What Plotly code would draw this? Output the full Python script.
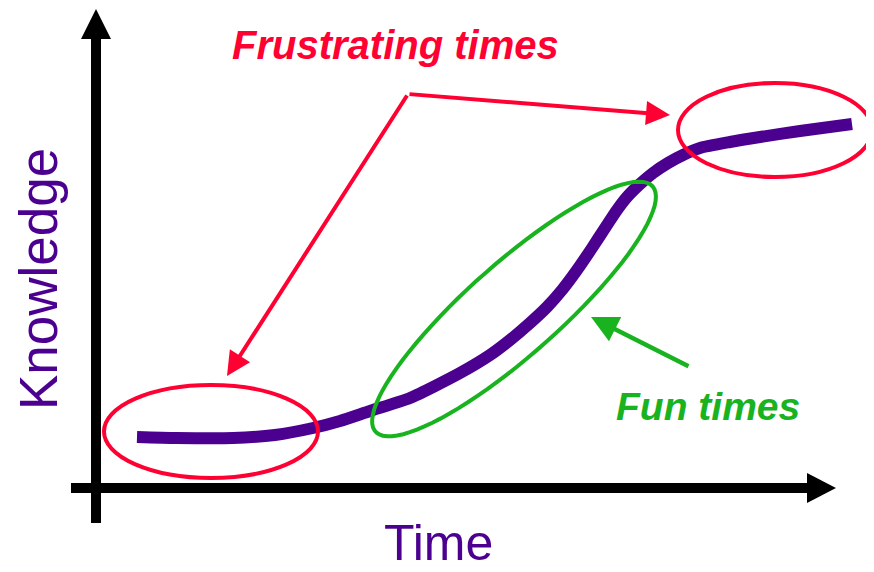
import numpy as np
import plotly.graph_objects as go

# learning curve (time / knowledge in drawing units)
time = [41, 80, 137, 179, 217, 244, 274, 314, 364, 394, 414, 434, 451, 466,
        481, 496, 511, 521, 531, 544, 557, 572, 587, 604, 634, 664, 704, 756]
knowledge = [51, 50, 50, 53, 60, 67, 77, 90, 115, 133, 148, 165, 181, 198,
             218, 240, 263, 278, 291, 304, 315, 325, 333, 340, 346, 351, 357, 364]

x_label = "Time"
y_label = "Knowledge"
slow_label = "Frustrating times"
fast_label = "Fun times"

PURPLE = "#4B0090"
RED = "#FF0033"
GREEN = "#19B31F"
FONT = "Liberation Sans, Arial, sans-serif"

fig = go.Figure()
fig.add_trace(go.Scatter(
    x=time, y=knowledge, mode="lines",
    line=dict(color=PURPLE, width=12, shape="spline", smoothing=0.6),
    hoverinfo="skip", showlegend=False,
))

shapes = []
# axes with arrow heads
shapes.append(dict(type="line", x0=0, y0=-35, x1=0, y1=452, line=dict(color="black", width=10)))
shapes.append(dict(type="path", path="M -15 449 L 0 479 L 15 449 Z", fillcolor="black", line=dict(width=0)))
shapes.append(dict(type="line", x0=-25, y0=0, x1=713, y1=0, line=dict(color="black", width=10)))
shapes.append(dict(type="path", path="M 711 15 L 740 0 L 711 -15 Z", fillcolor="black", line=dict(width=0)))

# red ellipses around the flat parts
shapes.append(dict(type="circle", x0=8, x1=222, y0=10, y1=103, line=dict(color=RED, width=4)))
shapes.append(dict(type="circle", x0=582, x1=776, y0=311, y1=405, line=dict(color=RED, width=4)))

# tilted green ellipse around the steep part
t = np.linspace(0, 2 * np.pi, 90)
a, b, ang = 185, 46, np.radians(41.5)
cx, cy = 418, 179
ex = cx + a * np.cos(t) * np.cos(ang) - b * np.sin(t) * np.sin(ang)
ey = cy + a * np.cos(t) * np.sin(ang) + b * np.sin(t) * np.cos(ang)
path = "M " + " L ".join(f"{x:.1f} {y:.1f}" for x, y in zip(ex, ey)) + " Z"
shapes.append(dict(type="path", path=path, line=dict(color=GREEN, width=4)))

annotations = []
# red arrows from a shared corner
for tx, ty in [(574, 373), (131, 112)]:
    annotations.append(dict(
        x=tx, y=ty, ax=312, ay=394, xref="x", yref="y", axref="x", ayref="y",
        text="", showarrow=True, arrowhead=2, arrowsize=1.2, arrowwidth=4, arrowcolor=RED,
    ))
# green arrow
annotations.append(dict(
    x=495, y=171, ax=594, ay=121, xref="x", yref="y", axref="x", ayref="y",
    text="", showarrow=True, arrowhead=2, arrowsize=1.2, arrowwidth=4.5, arrowcolor=GREEN,
))

annotations.append(dict(x=299, y=443, xref="x", yref="y", showarrow=False,
                        text=f"<b><i>{slow_label}</i></b>",
                        font=dict(family=FONT, size=40, color=RED)))
annotations.append(dict(x=612, y=82, xref="x", yref="y", showarrow=False,
                        text=f"<b><i>{fast_label}</i></b>",
                        font=dict(family=FONT, size=39, color=GREEN)))
annotations.append(dict(x=342, y=-55, xref="x", yref="y", showarrow=False,
                        text=x_label, font=dict(family=FONT, size=50, color=PURPLE)))
annotations.append(dict(x=-58, y=209, xref="x", yref="y", showarrow=False, textangle=-90,
                        text=y_label, font=dict(family=FONT, size=53, color=PURPLE)))

# the page body adds an 8px margin, so the figure is shrunk and shifted to compensate
fig.update_layout(
    width=866, height=564,
    margin=dict(l=0, r=0, t=0, b=0),
    paper_bgcolor="white", plot_bgcolor="white",
    xaxis=dict(range=[-88, 778], visible=False, fixedrange=True),
    yaxis=dict(range=[-84, 480], visible=False, fixedrange=True),
    shapes=shapes, annotations=annotations,
)

fig.write_html("out.html")
